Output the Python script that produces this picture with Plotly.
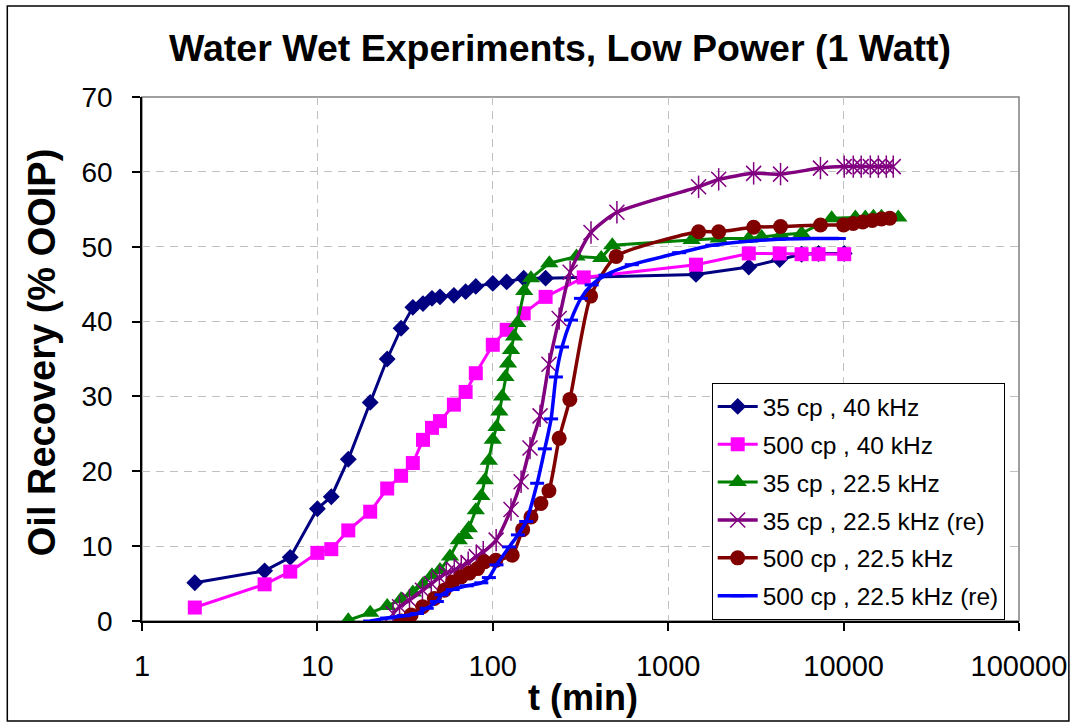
import plotly.graph_objects as go

# ---- text ----
title_text = "Water Wet Experiments, Low Power (1 Watt)"
x_title = "t (min)"
y_title = "Oil Recovery (% OOIP)"

# ---- series: time (min) and oil recovery (% OOIP) ----
name_35_40 = "35 cp , 40 kHz"
t_35_40 = [2, 5, 7, 10, 12, 15, 20, 25, 30, 35, 40, 45, 50, 60, 70, 80, 100, 120, 150, 200,
           1440, 2880, 4320, 5760, 7200, 10080]
r_35_40 = [5.1, 6.7, 8.5, 15.0, 16.6, 21.6, 29.2, 35.0, 39.1, 41.9, 42.4, 43.1, 43.3, 43.5, 44.0, 44.7,
           45.1, 45.3, 45.8, 45.8, 46.3, 47.3, 48.3, 49.0, 49.1, 49.1]

name_500_40 = "500 cp , 40 kHz"
t_500_40 = [2, 5, 7, 10, 12, 15, 20, 25, 30, 35, 40, 45, 50, 60, 70, 80, 100, 120, 150, 200, 330,
            1440, 2880, 4320, 5760, 7200, 10080]
r_500_40 = [1.8, 4.9, 6.6, 9.1, 9.6, 12.1, 14.6, 17.7, 19.4, 21.1, 24.2, 25.8, 26.7, 28.9, 30.6, 33.1,
            36.9, 38.9, 41.1, 43.3, 45.9, 47.6, 49.1, 49.1, 49.0, 49.0, 49.0]

name_35_225 = "35 cp , 22.5 kHz"
t_35_225 = [15, 20, 25, 30, 35, 40, 45, 50, 57, 64, 69, 73, 80, 86, 90, 95, 100, 105, 109, 113, 118,
            122, 127, 132, 138, 151, 165, 210, 300, 415, 480, 1360, 1940, 2880, 3410, 4380, 5760,
            8550, 11670, 13300, 14790, 16440, 20500]
r_35_225 = [0.1, 1.1, 2.0, 2.9, 3.8, 4.9, 6.1, 6.8, 8.6, 10.8, 11.5, 12.4, 14.8, 16.7, 18.8, 21.4, 24.2,
            25.9, 28.0, 30.0, 32.6, 34.4, 36.2, 38.0, 39.8, 44.1, 45.8, 47.8, 48.7, 48.5, 50.2, 50.9,
            51.1, 51.1, 51.3, 51.6, 51.8, 53.8, 53.9, 53.9, 54.0, 54.0, 53.9]

name_35_225_re = "35 cp , 22.5 kHz (re)"
t_35_225_re = [27, 29.4, 33.5, 39.7, 44.6, 49.6, 54.3, 60.3, 66.1, 72.4, 80.5, 88.2, 104.5, 127, 145,
               163, 186, 209, 239, 276, 363, 510, 1490, 1940, 3070, 4370, 7380, 10080, 11350, 12600,
               14200, 15780, 17520, 19190]
r_35_225_re = [1.0, 1.9, 2.8, 4.1, 5.0, 5.8, 6.4, 6.8, 7.3, 7.8, 8.6, 9.2, 10.8, 14.9, 18.6, 23.1, 27.4,
               34.3, 40.4, 46.6, 51.9, 54.6, 58.0, 59.0, 59.8, 59.7, 60.5, 60.7, 60.7, 60.7, 60.7,
               60.7, 60.7, 60.7]

name_500_225 = "500 cp , 22.5 kHz"
t_500_225 = [30, 34.2, 39.8, 46.4, 52.9, 59.0, 65.9, 73.4, 81.9, 89.4, 104, 129, 148, 165, 188, 209,
             239, 275, 361, 505, 1490, 1940, 3070, 4370, 7380, 10000, 11340, 12860, 14570, 16430,
             18330]
r_500_225 = [0.0, 0.8, 1.9, 3.0, 4.1, 5.2, 5.9, 6.4, 7.0, 7.9, 8.1, 8.8, 12.2, 13.9, 15.7, 17.4, 24.4,
             29.6, 43.4, 48.7, 52.0, 52.0, 52.6, 52.7, 52.9, 52.9, 53.1, 53.3, 53.5, 53.7, 53.8]

name_500_225_re = "500 cp , 22.5 kHz (re)"
t_500_225_re = [20, 25, 31, 37, 42, 48, 51, 59, 71, 86, 95, 105, 124, 139, 155, 179, 198, 215, 229,
                248, 279, 318, 366, 439, 620, 1155, 1785, 2760, 4265, 6590, 9400]
r_500_225_re = [0.0, 0.4, 0.7, 1.0, 1.7, 2.6, 3.5, 4.2, 4.7, 5.1, 5.8, 7.5, 9.9, 11.5, 13.3, 18.4, 23.0,
                27.0, 32.6, 36.6, 40.2, 43.1, 44.9, 46.2, 47.6, 49.2, 50.2, 50.7, 51.0, 51.1, 51.1]

x_ticks = [1, 10, 100, 1000, 10000, 100000]
y_ticks = [0, 10, 20, 30, 40, 50, 60, 70]

FONT = "Arial, 'Liberation Sans', sans-serif"

fig = go.Figure()

fig.add_trace(go.Scatter(
    x=t_35_40, y=r_35_40, name=name_35_40, legendgroup="g1", mode="lines+markers",
    line=dict(color="#000080", width=3),
    marker=dict(symbol="diamond", size=13, color="#000080", line=dict(width=0))))

fig.add_trace(go.Scatter(
    x=t_500_40, y=r_500_40, name=name_500_40, legendgroup="g2", mode="lines+markers",
    line=dict(color="#FF00FF", width=3),
    marker=dict(symbol="square", size=14, color="#FF00FF", line=dict(width=0))))

fig.add_trace(go.Scatter(
    x=t_35_225, y=r_35_225, name=name_35_225, legendgroup="g3", mode="lines+markers",
    line=dict(color="#008000", width=3),
    marker=dict(symbol="triangle-up", size=16, color="#008000", line=dict(width=0))))

fig.add_trace(go.Scatter(
    x=t_35_225_re, y=r_35_225_re, name=name_35_225_re, legendgroup="g4", mode="lines+markers",
    line=dict(color="#800080", width=3.5, shape="spline", smoothing=0.6),
    marker=dict(symbol="x-thin-open", size=15, color="#800080",
                line=dict(width=1.5, color="#800080"))))
# vertical stroke of the star marker
fig.add_trace(go.Scatter(
    x=t_35_225_re, y=r_35_225_re, legendgroup="g4", showlegend=False, mode="markers",
    hoverinfo="skip",
    marker=dict(symbol="line-ns-open", size=16, color="#800080",
                line=dict(width=1.5, color="#800080"))))

fig.add_trace(go.Scatter(
    x=t_500_225, y=r_500_225, name=name_500_225, legendgroup="g5", mode="lines+markers",
    line=dict(color="#800000", width=3.5, shape="spline", smoothing=0.6),
    marker=dict(symbol="circle", size=15, color="#800000", line=dict(width=0))))

fig.add_trace(go.Scatter(
    x=t_500_225_re, y=r_500_225_re, name=name_500_225_re, legendgroup="g6", mode="lines+markers",
    line=dict(color="#0000FF", width=3.5, shape="spline", smoothing=0.6),
    marker=dict(symbol="line-ew-open", size=10, color="#0000FF",
                line=dict(width=3, color="#0000FF"))))

axis_common = dict(
    showline=True, linecolor="#000000", linewidth=1.5, mirror=False,
    ticks="outside", ticklen=8, tickwidth=1.5, tickcolor="#000000",
    showgrid=True, gridcolor="#C0C0C0", gridwidth=1, griddash="8px,6px",
    zeroline=False,
)

fig.update_xaxes(type="log", range=[0, 5], tickvals=x_ticks, ticktext=[str(v) for v in x_ticks],
                 ticklabelstandoff=10, tickfont=dict(family=FONT, size=29, color="#000000"),
                 **axis_common)
fig.update_yaxes(range=[0, 70], tickvals=y_ticks, ticklabelstandoff=14,
                 tickfont=dict(family=FONT, size=28, color="#000000"), **axis_common)

fig.update_layout(
    width=1079, height=723,
    margin=dict(l=142, r=58, t=97, b=102),
    paper_bgcolor="#FFFFFF", plot_bgcolor="#FFFFFF",
    font=dict(family=FONT, color="#000000"),
    showlegend=True,
    legend=dict(
        x=0.6496, y=0.4542, xanchor="left", yanchor="top",
        bgcolor="#FFFFFF", bordercolor="#000000", borderwidth=1,
        font=dict(family=FONT, size=24.5, color="#000000"),
        tracegroupgap=3, itemwidth=40,
    ),
    title=dict(text="<b>" + title_text + "</b>", x=0.519, xref="container", xanchor="center",
               y=1 - 48 / 723, yref="container", yanchor="middle",
               font=dict(family=FONT, size=37.5, color="#000000")),
    annotations=[
        dict(text="<b>" + x_title + "</b>", xref="paper", yref="paper",
             x=(584 - 142) / 879, y=(621 - 697) / 524, xanchor="center", yanchor="middle",
             showarrow=False, font=dict(family=FONT, size=36, color="#000000")),
        dict(text="<b>" + y_title + "</b>", xref="paper", yref="paper",
             x=(42 - 142) / 879, y=(621 - 352) / 524, xanchor="center", yanchor="middle",
             textangle=-90, showarrow=False, font=dict(family=FONT, size=38, color="#000000")),
    ],
    shapes=[
        # plot-area frame (grey) on top and right
        dict(type="rect", xref="paper", yref="paper", x0=0, y0=0, x1=1, y1=1,
             line=dict(color="#808080", width=1.5), layer="below"),
        # outer chart border
        dict(type="rect", xref="paper", yref="paper",
             x0=(7 - 142) / 879, x1=(1071 - 142) / 879,
             y0=(621 - 721) / 524, y1=(621 - 6) / 524,
             line=dict(color="#000000", width=1.5), layer="below"),
    ],
)

fig.write_html("out.html")
